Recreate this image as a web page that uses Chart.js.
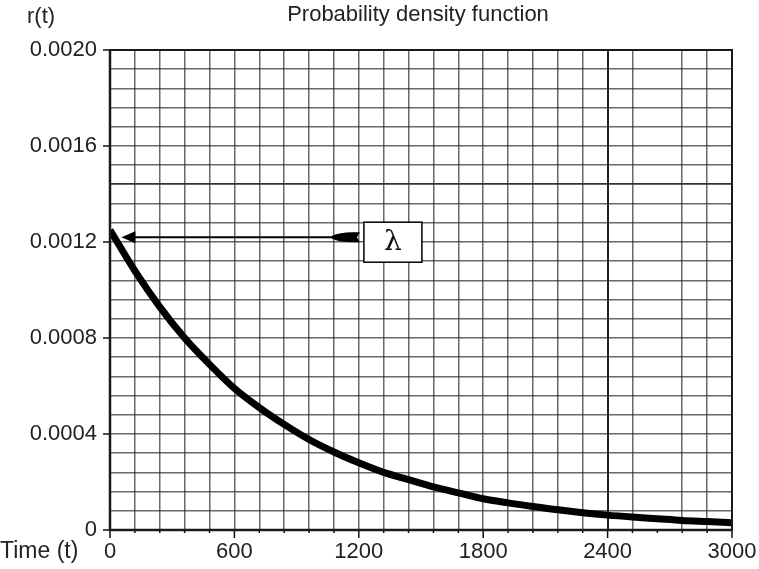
<!DOCTYPE html>
<html>
<head>
<meta charset="utf-8">
<script src="https://cdn.jsdelivr.net/npm/chart.js@4.4.1/dist/chart.umd.min.js"></script>
<style>
  html, body { margin: 0; padding: 0; background: #fff; }
  #wrap { width: 759px; height: 569px; }
</style>
</head>
<body>
<div id="wrap"><canvas id="pdf-chart" width="759" height="569"></canvas></div>
<script>
// Probability density function r(t)
const timeValues = [0, 120, 240, 360, 480, 600, 720, 840, 960, 1080, 1200, 1320, 1440,
  1560, 1680, 1800, 1920, 2040, 2160, 2280, 2400, 2520, 2640, 2760, 2880, 3000];
const densityValues = [0.00125, 0.00108, 0.00093, 0.00080, 0.00069, 0.00059, 0.00051, 0.00044,
  0.000377, 0.000325, 0.00028, 0.00024, 0.00021, 0.00018, 0.000155, 0.00013, 0.000113, 0.000098,
  0.000084, 0.000072, 0.000062, 0.000054, 0.000047, 0.00004, 0.000035, 0.00003];
const xTickLabels = ['0', '600', '1200', '1800', '2400', '3000'];
const yTickLabels = ['0', '0.0004', '0.0008', '0.0012', '0.0016', '0.0020'];

// lambda marker: arrow from box back to the start of the curve
const lambdaValue = 0.00122;
const lambdaArrowFrom = 1215;
const lambdaArrowTo = 55;

const FONT = '"Liberation Sans", Arial, sans-serif';

const annotate = {
  id: 'annotate',
  afterDatasetsDraw(chart) {
    const { ctx, chartArea: a, scales: { x, y } } = chart;
    ctx.save();

    // minor / major tick marks under the x axis, on y axis labels
    ctx.strokeStyle = '#111';
    ctx.lineWidth = 1.5;
    timeValues.forEach(t => {
      const px = x.getPixelForValue(t);
      const len = (t % 600 === 0) ? 8 : 3;
      ctx.beginPath(); ctx.moveTo(px, a.bottom); ctx.lineTo(px, a.bottom + len); ctx.stroke();
    });
    for (let k = 0; k < yTickLabels.length; k++) {
      const py = y.getPixelForValue(k * 0.0004);
      ctx.beginPath(); ctx.moveTo(a.left - 7, py); ctx.lineTo(a.left, py); ctx.stroke();
    }

    // frame
    ctx.strokeStyle = '#1a1a1a';
    ctx.lineWidth = 2;
    ctx.strokeRect(a.left, a.top, a.right - a.left, a.bottom - a.top);
    ctx.lineWidth = 2.5;
    ctx.beginPath(); ctx.moveTo(a.left, a.top); ctx.lineTo(a.left, a.bottom); ctx.lineTo(a.right, a.bottom); ctx.stroke();

    // arrow
    const ay = y.getPixelForValue(lambdaValue);
    const x0 = x.getPixelForValue(lambdaArrowTo);
    const x1 = x.getPixelForValue(lambdaArrowFrom);
    ctx.strokeStyle = '#000';
    ctx.fillStyle = '#000';
    ctx.lineWidth = 2;
    ctx.beginPath(); ctx.moveTo(x0 + 10, ay); ctx.lineTo(x1 - 20, ay); ctx.stroke();
    ctx.beginPath();
    ctx.moveTo(x0, ay); ctx.lineTo(x0 + 14, ay - 6); ctx.lineTo(x0 + 14, ay + 6); ctx.closePath(); ctx.fill();
    // thick tail
    ctx.beginPath();
    ctx.moveTo(x1 - 30, ay - 1.5);
    ctx.quadraticCurveTo(x1 - 22, ay - 5, x1 - 10, ay - 5);
    ctx.lineTo(x1 - 2, ay - 5);
    ctx.lineTo(x1 - 5, ay);
    ctx.lineTo(x1 - 2, ay + 5);
    ctx.lineTo(x1 - 10, ay + 5);
    ctx.quadraticCurveTo(x1 - 22, ay + 5, x1 - 30, ay + 1.5);
    ctx.closePath(); ctx.fill();

    // lambda box
    const bx = x1 + 2, bw = 58, bh = 40, by = ay - 15;
    ctx.fillStyle = '#fff';
    ctx.fillRect(bx, by, bw, bh);
    ctx.strokeStyle = '#000';
    ctx.lineWidth = 1.5;
    ctx.strokeRect(bx, by, bw, bh);
    ctx.fillStyle = '#111';
    ctx.font = '28px "DejaVu Serif", "Liberation Serif", serif';
    ctx.textAlign = 'center';
    ctx.textBaseline = 'middle';
    ctx.fillText('λ', bx + bw / 2, by + bh / 2 + 1);

    // texts
    ctx.fillStyle = '#222';
    ctx.textBaseline = 'middle';
    ctx.textAlign = 'left';
    ctx.font = '22px ' + FONT;
    ctx.fillText('r(t)', 27, 17);
    ctx.font = '23px ' + FONT;
    ctx.fillText('Time (t)', 0, 552);
    ctx.textAlign = 'center';
    ctx.font = '22px ' + FONT;
    ctx.fillText('Probability density function', 418, 15);
    ctx.restore();
  }
};

new Chart(document.getElementById('pdf-chart'), {
  type: 'line',
  data: {
    labels: timeValues,
    datasets: [{
      data: timeValues.map((t, i) => ({ x: t, y: densityValues[i] })),
      borderColor: '#000',
      borderWidth: 7,
      pointRadius: 0,
      cubicInterpolationMode: 'monotone',
      fill: false
    }]
  },
  options: {
    responsive: false,
    animation: false,
    layout: { padding: { top: 50, right: 27, left: 0, bottom: 0 } },
    plugins: { legend: { display: false }, tooltip: { enabled: false } },
    scales: {
      x: {
        type: 'linear',
        min: 0, max: 3000,
        afterBuildTicks: s => { s.ticks = timeValues.map(v => ({ value: v })); },
        afterFit: s => { s.height = 39; s.paddingRight = 0; s.paddingLeft = 0; },
        grid: {
          drawTicks: false,
          color: c => c.tick && c.tick.value === 2640 ? 'rgba(0,0,0,0)'
            : (c.tick && c.tick.value === 2400 ? '#222' : 'rgba(40,40,40,0.7)'),
          lineWidth: c => c.tick && c.tick.value === 2400 ? 2 : 1.5
        },
        border: { display: false },
        ticks: {
          autoSkip: false,
          maxRotation: 0,
          padding: 9,
          color: '#222',
          font: { family: FONT, size: 22 },
          callback: (v) => v % 600 === 0 ? xTickLabels[v / 600] : ''
        }
      },
      y: {
        min: 0, max: 0.002,
        afterBuildTicks: s => {
          const t = [];
          for (let k = 0; k <= 25; k++) t.push({ value: k * 0.00008 });
          s.ticks = t;
        },
        afterFit: s => { s.width = 110; s.paddingTop = 0; s.paddingBottom = 0; },
        grid: {
          drawTicks: false,
          color: c => c.index === 18 ? '#333' : 'rgba(40,40,40,0.7)',
          lineWidth: c => c.index === 18 ? 1.8 : 1.5
        },
        border: { display: false },
        ticks: {
          autoSkip: false,
          padding: 13,
          color: '#222',
          font: { family: FONT, size: 22 },
          callback: (v, i) => i % 5 === 0 ? yTickLabels[i / 5] : ''
        }
      }
    }
  },
  plugins: [annotate]
});
</script>
</body>
</html>
